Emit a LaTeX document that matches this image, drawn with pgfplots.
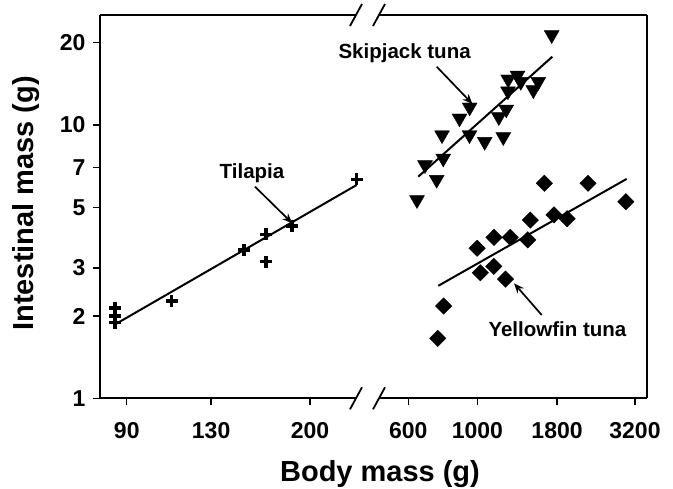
\documentclass[border=0pt]{standalone}
\usepackage{fontspec}
\setmainfont{Liberation Sans}
\usepackage{pgfplots}
\pgfplotsset{compat=1.18}
\usetikzlibrary{arrows.meta}

\begin{document}
\begin{tikzpicture}[x=1pt,y=1pt]
\useasboundingbox (0,0) rectangle (673,489);
% left part: tilapia
\begin{axis}[at={(100pt,90.7pt)}, anchor=south west,
  scale only axis, width=256pt, height=383.3pt,
  xmode=log, ymode=log, ymin=1, ymax=25.26,
  xmin=80.1, xmax=244.4,
  axis x line*=bottom, axis y line*=left,
  axis line style={line width=1.8pt},
  tick align=outside, major tick length=7pt,
  tick style={line width=1.4pt, black},
  clip=false,
  tick label style={font=\fontsize{23}{23}\selectfont\bfseries},
  xtick={90,130,200}, xticklabels={90,130,200},
  minor xtick={}, minor ytick={},
  ytick={1,2,3,5,7,10,20}, yticklabels={1,2,3,5,7,10,20},
  xticklabel style={yshift=-14pt}, yticklabel style={xshift=-4pt}]
\draw[line width=1.8pt] (rel axis cs:0,1) -- (rel axis cs:1,1);
\addplot[black, no marks, line width=2pt] coordinates {(85.2,1.855) (245,6.03)};
\addplot[black, only marks, mark=+, mark size=6pt,
  every mark/.append style={line width=3.4pt}]
  coordinates {(85.5,2.14) (85.5,2.00) (85.5,1.89) (109.5,2.27) (150,3.49)
               (165,3.98) (165,3.16) (185,4.27) (245,6.33)};
\end{axis}
% right part: tunas
\begin{axis}[at={(379pt,90.7pt)}, anchor=south west,
  scale only axis, width=268pt, height=383.3pt,
  xmode=log, ymode=log, ymin=1, ymax=25.26,
  xmin=483.4, xmax=3497,
  axis x line*=bottom, axis y line*=right, ytick=\empty,
  axis line style={line width=1.8pt},
  tick align=outside, major tick length=7pt,
  tick style={line width=1.4pt, black},
  clip=false,
  tick label style={font=\fontsize{23}{23}\selectfont\bfseries},
  minor xtick={},
  xtick={600,1000,1800,3200}, xticklabels={600,1000,1800,3200},
  xticklabel style={yshift=-14pt}]
\draw[line width=1.8pt] (rel axis cs:0,1) -- (rel axis cs:1,1);
\addplot[black, no marks, line width=2pt] coordinates {(646,6.47) (1738,17.78)};
\addplot[black, no marks, line width=2pt] coordinates {(749,2.58) (3010,6.35)};
\addplot[black, only marks, mark=triangle*, mark size=8.6pt,
  mark options={rotate=180, fill=black}]
  coordinates {(1730,21.35) (640,5.32) (740,6.31) (679,7.14) (777,7.55)
               (770,9.19) (876,10.58) (944,11.61) (943,9.19) (1055,8.69)
               (1210,9.04) (1171,10.70) (1237,11.41) (1253,13.30) (1255,14.70)
               (1344,15.18) (1377,14.40) (1511,13.43) (1567,14.40)};
\addplot[black, only marks, mark=square*, mark size=5.8pt,
  mark options={rotate=45, fill=black}]
  coordinates {(746,1.658) (779,2.177) (997,3.54) (1021,2.88) (1130,3.88)
               (1128,3.04) (1230,2.73) (1274,3.88) (1450,3.80) (1477,4.49)
               (1638,6.12) (1760,4.69) (1940,4.54) (2262,6.12) (2991,5.24)};
\end{axis}
% axis break marks
\foreach \c in {356,379}{
  \draw[line width=1.8pt] (\c-6,474-11) -- (\c+6,474+11);
  \draw[line width=1.8pt] (\c-6,90.7-11) -- (\c+6,90.7+11);
}
% axis titles
\node[anchor=base, font=\fontsize{29}{29}\selectfont\bfseries] at (380,7.3) {Body mass (g)};
\node[anchor=base, rotate=90, font=\fontsize{29}{29}\selectfont\bfseries] at (34,285.7) {Intestinal mass (g)};
% annotations
\begin{scope}[font=\fontsize{20.5}{20.5}\selectfont\bfseries]
\node[anchor=base] at (252,310.7) {Tilapia};
\node[anchor=base west] at (335,430.7) {Skipjack tuna};
\node[anchor=base west] at (485,152.3) {Yellowfin tuna};
\end{scope}
\begin{scope}[line width=1.7pt, -{Stealth[length=10pt, width=8pt]}]
\draw (255,302.3) -- (292.3,265.7);
\draw (436.7,422.3) -- (472.5,385);
\draw (541.7,174) -- (514,205.7);
\end{scope}
\end{tikzpicture}
\end{document}
